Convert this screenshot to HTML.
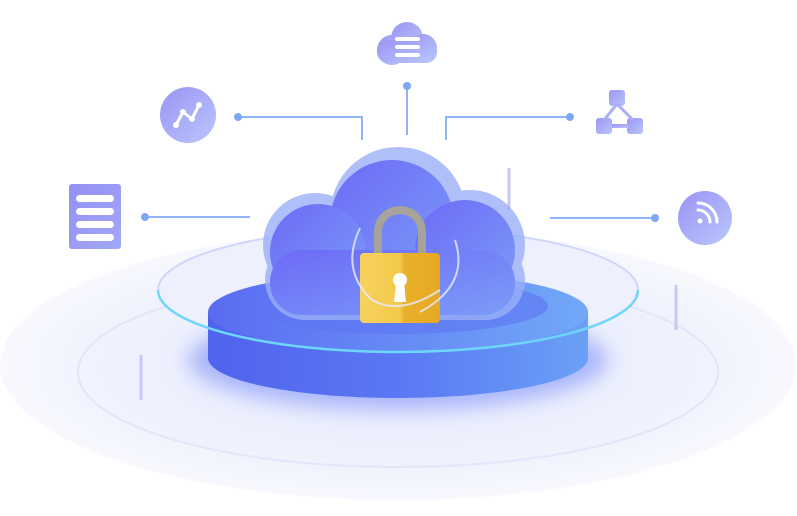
<!DOCTYPE html>
<html><head><meta charset="utf-8"><style>html,body{margin:0;padding:0;background:#fff;width:797px;height:516px;overflow:hidden}</style></head><body>
<svg width="797" height="516" viewBox="0 0 797 516" xmlns="http://www.w3.org/2000/svg">
<defs>
<radialGradient id="bg" cx="50%" cy="50%" r="50%"><stop offset="0" stop-color="#e6eafc"/><stop offset="0.7" stop-color="#eef1fd"/><stop offset="1" stop-color="#f8f9fe"/></radialGradient>
<linearGradient id="cl" x1="0" y1="0" x2="1" y2="1"><stop offset="0" stop-color="#6d6af6"/><stop offset="1" stop-color="#7b9cf8"/></linearGradient>
<linearGradient id="side" x1="0" y1="0" x2="1" y2="0"><stop offset="0" stop-color="#5063ee"/><stop offset="0.5" stop-color="#5a78f3"/><stop offset="1" stop-color="#6aa0f7"/></linearGradient>
<linearGradient id="top" x1="0" y1="0" x2="1" y2="0"><stop offset="0" stop-color="#5a6cf2"/><stop offset="1" stop-color="#72a8f8"/></linearGradient>
<linearGradient id="lock" x1="0" y1="0" x2="1" y2="0"><stop offset="0" stop-color="#f6d25e"/><stop offset="0.5" stop-color="#f3c94a"/><stop offset="0.55" stop-color="#e9b02c"/><stop offset="1" stop-color="#e6a823"/></linearGradient>
<linearGradient id="ic" x1="0" y1="0" x2="1" y2="1"><stop offset="0" stop-color="#9b94f5"/><stop offset="1" stop-color="#b9c6fb"/></linearGradient>
<filter id="bl" x="-30%" y="-30%" width="160%" height="160%"><feGaussianBlur stdDeviation="10"/></filter>
</defs>
<ellipse cx="398" cy="365" rx="398" ry="135" fill="url(#bg)"/>
<ellipse cx="398" cy="372" rx="320" ry="95" fill="none" stroke="#e2e6fb" stroke-width="2"/>
<ellipse cx="398" cy="290" rx="240" ry="62" fill="#eef1fd" stroke="#cfd6fa" stroke-width="2"/>
<ellipse cx="398" cy="360" rx="210" ry="50" fill="#a9b6fb" filter="url(#bl)"/>
<!-- lines -->
<g stroke="#8fb3f7" stroke-width="2" fill="none">
<path d="M238 117 H362 V140"/><path d="M570 117 H446 V140"/><path d="M407 85 V135"/>
<path d="M145 217 H250"/><path d="M550 218 H655"/>
</g>
<g fill="#7ea8f6"><circle cx="238" cy="117" r="4"/><circle cx="570" cy="117" r="4"/><circle cx="407" cy="86" r="4"/><circle cx="145" cy="217" r="4"/><circle cx="655" cy="218" r="4"/></g>
<g stroke="#c9c8f5" stroke-width="3"><path d="M509 168 V210"/><path d="M676 285 V330"/><path d="M141 355 V400"/></g>
<!-- platform -->
<path d="M208 312 V358 A190 40 0 0 0 588 358 V312 Z" fill="url(#side)"/>
<ellipse cx="398" cy="312" rx="190" ry="40" fill="url(#top)"/>
<ellipse cx="398" cy="306" rx="150" ry="28" fill="#5d74f1" opacity="0.6"/>
<!-- cloud -->
<g fill="#9ab0f9" opacity="0.8">
<circle cx="398" cy="215" r="68"/><circle cx="315" cy="245" r="52"/><circle cx="470" cy="245" r="55"/><rect x="265" y="240" width="260" height="80" rx="40"/>
</g>
<g fill="url(#cl)">
<circle cx="392" cy="222" r="62"/><circle cx="318" cy="252" r="48"/><circle cx="465" cy="250" r="50"/><rect x="270" y="250" width="245" height="65" rx="32"/>
</g>
<!-- cyan ring front -->
<path d="M158 290 A240 62 0 0 0 638 290" fill="none" stroke="#6fd6fb" stroke-width="2.5"/>
<!-- lock -->
<path d="M378 258 V232 A22 22 0 0 1 422 232 V258" fill="none" stroke="#a7a39a" stroke-width="8"/>
<rect x="360" y="253" width="80" height="70" rx="4" fill="url(#lock)"/>
<circle cx="400" cy="280" r="7" fill="#fff"/><path d="M396 282 L394 302 H406 L404 282 Z" fill="#fff"/>
<g fill="none" stroke="#e8ecff" stroke-width="2" opacity="0.8">
<path d="M360 228 Q340 270 372 300 Q400 316 440 290"/><path d="M455 240 Q470 285 420 312"/>
</g>
<!-- top cloud icon -->
<g fill="url(#ic)"><circle cx="407" cy="38" r="16"/><circle cx="392" cy="50" r="15"/><circle cx="423" cy="48" r="14"/><rect x="377" y="40" width="60" height="23" rx="11"/></g>
<g fill="#fff"><rect x="395" y="37" width="25" height="4" rx="2"/><rect x="395" y="45" width="25" height="4" rx="2"/><rect x="395" y="53" width="25" height="4" rx="2"/></g>
<!-- chart circle -->
<circle cx="188" cy="115" r="28" fill="url(#ic)"/>
<path d="M176 125 L183 112 L192 119 L199 105" fill="none" stroke="#fff" stroke-width="3" stroke-linejoin="round"/>
<g fill="#fff"><circle cx="176" cy="125" r="3"/><circle cx="183" cy="112" r="3"/><circle cx="192" cy="119" r="3"/><circle cx="199" cy="105" r="3"/></g>
<!-- server -->
<rect x="69" y="184" width="52" height="65" rx="3" fill="url(#ic)"/>
<rect x="69" y="184" width="52" height="65" rx="3" fill="#8c8cf4" opacity="0.5"/>
<g fill="#fff"><rect x="76" y="195" width="38" height="7" rx="3.5"/><rect x="76" y="208" width="38" height="7" rx="3.5"/><rect x="76" y="221" width="38" height="7" rx="3.5"/><rect x="76" y="234" width="38" height="7" rx="3.5"/></g>
<!-- flow icon -->
<g fill="url(#ic)"><rect x="609" y="90" width="16" height="16" rx="3"/><rect x="596" y="118" width="16" height="16" rx="3"/><rect x="627" y="118" width="16" height="16" rx="3"/><rect x="612" y="124" width="16" height="4"/></g>
<path d="M617 104 L604 120 M617 104 L633 120" stroke="#a9b0f8" stroke-width="3"/>
<!-- wifi -->
<circle cx="705" cy="218" r="27" fill="url(#ic)"/>
<g fill="none" stroke="#fff" stroke-width="3" stroke-linecap="round"><path d="M698 210 A12 12 0 0 1 710 222"/><path d="M698 203 A19 19 0 0 1 717 222"/></g>
<circle cx="700" cy="221" r="2.5" fill="#fff"/>
</svg>
</body></html>
